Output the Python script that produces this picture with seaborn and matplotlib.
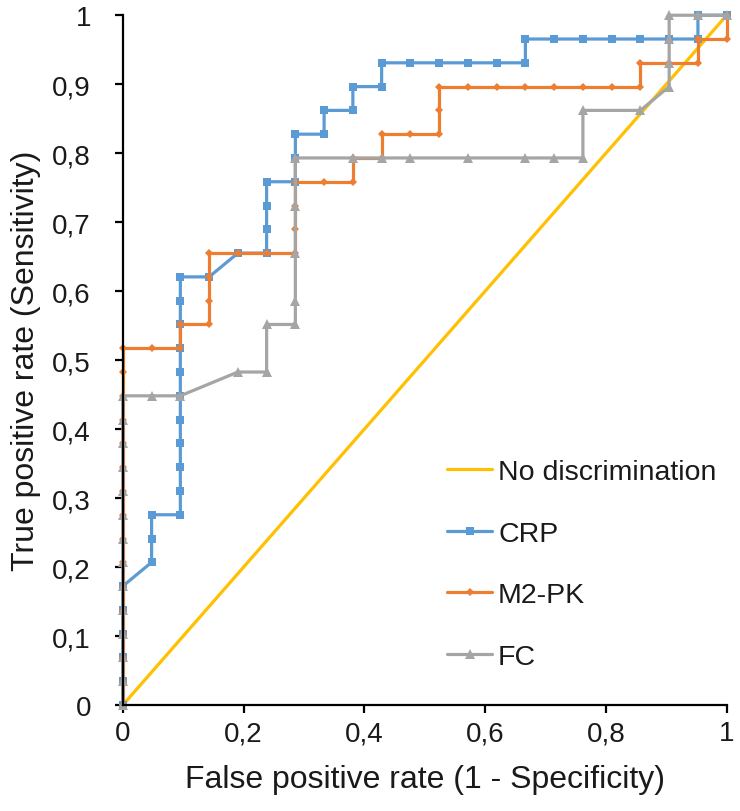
import matplotlib
matplotlib.use("Agg")
import matplotlib.pyplot as plt
import seaborn as sns
import pandas as pd

# ROC points: false positives out of 21, true positives out of 29
n_neg = 21
n_pos = 29

crp_fp = [0, 0, 0, 0, 0, 0, 1, 1, 1, 2, 2, 2, 2, 2, 2, 2, 2, 2, 2, 2, 3, 4, 5, 5, 5, 5,
          6, 6, 6, 7, 7, 8, 8, 9, 9, 10, 11, 12, 13, 14, 14, 15, 16, 17, 18, 19, 20, 20, 21]
crp_tp = [0, 1, 2, 3, 4, 5, 6, 7, 8, 8, 9, 10, 11, 12, 13, 14, 15, 16, 17, 18, 18, 19, 19, 20, 21, 22,
          22, 23, 24, 24, 25, 25, 26, 26, 27, 27, 27, 27, 27, 27, 28, 28, 28, 28, 28, 28, 28, 29, 29]

m2pk_fp = [0, 0, 0, 0, 0, 0, 0, 0, 0, 0, 0, 0, 0, 0, 0, 0, 1, 2, 2, 3, 3, 3, 3, 4, 5, 6, 6, 6, 6,
           7, 8, 8, 9, 9, 10, 11, 11, 11, 12, 13, 14, 15, 16, 17, 18, 18, 19, 20, 20, 21, 21]
m2pk_tp = [0, 1, 2, 3, 4, 5, 6, 7, 8, 9, 10, 11, 12, 13, 14, 15, 15, 15, 16, 16, 17, 18, 19, 19, 19, 19, 20, 21, 22,
           22, 22, 23, 23, 24, 24, 24, 25, 26, 26, 26, 26, 26, 26, 26, 26, 27, 27, 27, 28, 28, 29]

fc_fp = [0, 0, 0, 0, 0, 0, 0, 0, 0, 0, 0, 0, 0, 0, 1, 2, 4, 5, 5, 6, 6, 6, 6, 6,
         8, 9, 10, 12, 14, 15, 16, 16, 18, 19, 19, 19, 19, 20, 21]
fc_tp = [0, 1, 2, 3, 4, 5, 6, 7, 8, 9, 10, 11, 12, 13, 13, 13, 14, 14, 16, 16, 17, 19, 21, 23,
         23, 23, 23, 23, 23, 23, 23, 25, 25, 26, 27, 28, 29, 29, 29]

diag = [0, 1]

x_ticks = [0, 0.2, 0.4, 0.6, 0.8, 1]
x_labels = ["0", "0,2", "0,4", "0,6", "0,8", "1"]
y_ticks = [0, 0.1, 0.2, 0.3, 0.4, 0.5, 0.6, 0.7, 0.8, 0.9, 1]
y_labels = ["0", "0,1", "0,2", "0,3", "0,4", "0,5", "0,6", "0,7", "0,8", "0,9", "1"]

sns.set_style("white")
plt.rcParams["font.family"] = ["Liberation Sans", "DejaVu Sans"]
txt = "#1a1a1a"

fig = plt.figure(figsize=(7.4, 8.12), dpi=100)
ax = fig.add_axes([0.166, 0.1305, 0.816, 0.8495])

sns.lineplot(x=diag, y=diag, color="#FFC000", linewidth=2.3, label="No discrimination", ax=ax)

series = [
    ("CRP", crp_fp, crp_tp, "#5B9BD5", "s", 6),
    ("M2-PK", m2pk_fp, m2pk_tp, "#ED7D31", "D", 4.5),
    ("FC", fc_fp, fc_tp, "#A5A5A5", "^", 7),
]
for name, fp, tp, col, mk, ms in series:
    df = pd.DataFrame({"fpr": [v / n_neg for v in fp], "tpr": [v / n_pos for v in tp]})
    sns.lineplot(data=df, x="fpr", y="tpr", sort=False, estimator=None, color=col,
                 linewidth=2.3, marker=mk, markersize=ms, markeredgewidth=0,
                 label=name, clip_on=False, ax=ax)

ax.set_xlim(0, 1)
ax.set_ylim(0, 1)
ax.set_xticks(x_ticks)
ax.set_xticklabels(x_labels)
ax.set_yticks(y_ticks)
ax.set_yticklabels(y_labels)
ax.tick_params(axis="both", direction="out", length=6, width=1.6, color="black",
               labelsize=20, labelcolor=txt, left=True, bottom=True)
ax.tick_params(axis="y", pad=17)
ax.tick_params(axis="x", pad=5)
for side in ["top", "right"]:
    ax.spines[side].set_visible(False)
for side in ["left", "bottom"]:
    ax.spines[side].set_color("black")
    ax.spines[side].set_linewidth(1.6)

ax.set_xlabel("False positive rate (1 - Specificity)", fontsize=23, color=txt, labelpad=13)
ax.set_ylabel("True positive rate (Sensitivity)", fontsize=23, color=txt, labelpad=8)

leg = ax.legend(loc="upper left", bbox_to_anchor=(0.513, 0.377), frameon=False, borderpad=0,
                fontsize=20.5, labelspacing=1.25, handlelength=1.6, handletextpad=0.2)
for t in leg.get_texts():
    t.set_color(txt)

fig.savefig("out.png", dpi=100)
